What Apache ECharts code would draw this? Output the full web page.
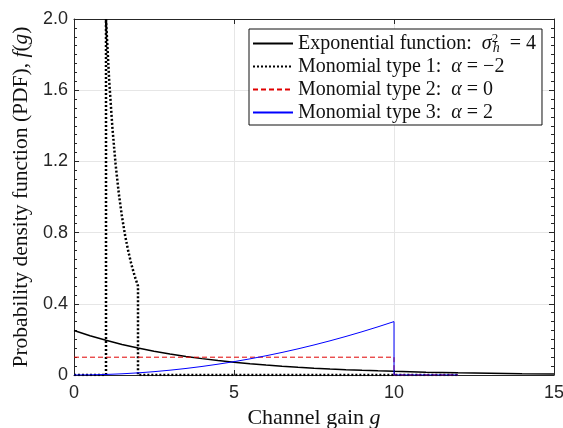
<!DOCTYPE html>
<html>
<head>
<meta charset="utf-8">
<script src="https://cdn.jsdelivr.net/npm/echarts@6/dist/echarts.min.js"></script>
<style>html,body{margin:0;padding:0;background:#fff}#c{width:563px;height:428px}</style>
</head>
<body>
<div id="c"></div>
<script>
// ---- data ----
var seriesNames = ['Exponential function', 'Monomial type 1', 'Monomial type 2', 'Monomial type 3'];
var expG = [0,0.5,1,1.5,2,2.5,3,3.5,4,4.5,5,5.5,6,6.5,7,7.5,8,8.5,9,9.5,10,11,12,13,14,15];
var expF = [0.25,0.2206,0.1947,0.1718,0.1516,0.1338,0.1181,0.1042,0.092,0.0812,0.0716,0.0632,0.0558,0.0492,0.0434,0.0383,0.0338,0.0299,0.0263,0.0233,0.0205,0.016,0.0124,0.0097,0.0075,0.0059];
var mono1G = [0,1,1,1.1,1.2,1.3,1.4,1.5,1.6,1.7,1.8,1.9,2,2,12];
var mono1F = [0,0,2.0,1.653,1.389,1.183,1.02,0.889,0.781,0.692,0.617,0.554,0.5,0,0];
var mono2G = [0,10,10,12];
var mono2F = [0.1,0.1,0,0];
var mono3G = [0,0.5,1,1.5,2,2.5,3,3.5,4,4.5,5,5.5,6,6.5,7,7.5,8,8.5,9,9.5,10,10,12];
var mono3F = [0,0.00075,0.003,0.00675,0.012,0.01875,0.027,0.03675,0.048,0.06075,0.075,0.09075,0.108,0.12675,0.147,0.16875,0.192,0.21675,0.243,0.27075,0.3,0,0];
var xTickLabels = ['0','5','10','15'];
var yTickLabels = ['0','0.4','0.8','1.2','1.6','2.0'];

function pairs(xs, ys){ return xs.map(function(x,i){ return [x, ys[i]]; }); }

var serif = 'Liberation Serif';
var sans = 'Liberation Sans';
var axisColor = '#262626';

var chart = echarts.init(document.getElementById('c'), null, {renderer:'canvas'});
var baseAxisX = {type:'value', min:0, max:15, interval:5};
var baseAxisY = {type:'value', min:0, max:2, interval:0.4};

chart.setOption({
  animation:false,
  backgroundColor:'#fff',
  grid:{left:74, right:9, top:19, bottom:53, containLabel:false, outerBoundsMode:'none'},
  xAxis:[
    Object.assign({}, baseAxisX, {
      position:'bottom',
      name:'Channel gain {i|g}',
      nameLocation:'middle', nameGap:32,
      nameTextStyle:{fontFamily:serif, fontSize:22, color:'#111', rich:{i:{fontFamily:serif, fontStyle:'italic', fontSize:22, color:'#111'}}},
      axisLine:{show:true, onZero:false, lineStyle:{color:axisColor, width:1}},
      axisTick:{show:true, inside:true, length:5, lineStyle:{color:axisColor}},
      axisLabel:{fontFamily:sans, fontSize:18, color:'#262626', margin:9,
        formatter:function(v){ return xTickLabels[Math.round(v/5)]; }},
      splitLine:{show:true, lineStyle:{color:'#e6e6e6', width:1}}
    }),
    Object.assign({}, baseAxisX, {
      position:'top',
      axisLine:{show:true, onZero:false, lineStyle:{color:axisColor, width:1}},
      axisTick:{show:true, inside:true, length:5, lineStyle:{color:axisColor}},
      axisLabel:{show:false}, splitLine:{show:false}
    })
  ],
  yAxis:[
    Object.assign({}, baseAxisY, {
      position:'left',
      name:'Probability density function (PDF), {i|f}({i|g})',
      nameLocation:'middle', nameGap:39, nameRotate:90,
      nameTextStyle:{fontFamily:serif, fontSize:21.5, color:'#111', rich:{i:{fontFamily:serif, fontStyle:'italic', fontSize:21.5, color:'#111'}}},
      axisLine:{show:true, onZero:false, lineStyle:{color:axisColor, width:1}},
      axisTick:{show:true, inside:true, length:5, lineStyle:{color:axisColor}},
      minorTick:{show:true, splitNumber:8, length:3, lineStyle:{color:axisColor}},
      axisLabel:{fontFamily:sans, fontSize:18, color:'#262626', margin:6,
        formatter:function(v){ return yTickLabels[Math.round(v/0.4)]; }},
      splitLine:{show:true, lineStyle:{color:'#e6e6e6', width:1}}
    }),
    Object.assign({}, baseAxisY, {
      position:'right',
      axisLine:{show:true, onZero:false, lineStyle:{color:axisColor, width:1}},
      axisTick:{show:true, inside:true, length:5, lineStyle:{color:axisColor}},
      minorTick:{show:true, splitNumber:8, length:3, lineStyle:{color:axisColor}},
      axisLabel:{show:false}, splitLine:{show:false}
    })
  ],
  legend:{
    orient:'vertical', left:249, top:29,
    data:seriesNames,
    backgroundColor:'#fff', borderColor:'#111', borderWidth:1, borderRadius:0,
    padding:[3,6,1,3],
    itemWidth:40, itemHeight:10, itemGap:0,
    itemStyle:{opacity:0},
    textStyle:{fontFamily:serif, fontSize:20, color:'#111', lineHeight:23,
      rich:{
        t:{fontFamily:serif, fontSize:20, color:'#111', lineHeight:23},
        i:{fontFamily:serif, fontStyle:'italic', fontSize:20, color:'#111', lineHeight:23},
        sup:{fontFamily:serif, fontSize:13, color:'#111', verticalAlign:'top', lineHeight:23, width:1},
        sub:{fontFamily:serif, fontStyle:'italic', fontSize:14, color:'#111', verticalAlign:'bottom', lineHeight:19, padding:[6,0,0,0]}
      }},
    formatter:function(name){
      if(name===seriesNames[0]) return '{t|Exponential function:  }{i|σ}{sup|2}{sub|h}{t|  = 4}';
      if(name===seriesNames[1]) return '{t|Monomial type 1:  }{i|α}{t| = −2}';
      if(name===seriesNames[2]) return '{t|Monomial type 2:  }{i|α}{t| = 0}';
      return '{t|Monomial type 3:  }{i|α}{t| = 2}';
    }
  },
  series:[
    {name:seriesNames[0], type:'line', data:pairs(expG, expF), showSymbol:false, symbol:'none', smooth:false, clip:true,
      lineStyle:{color:'#000', width:1.5, type:'solid'}, itemStyle:{color:'#000'}},
    {name:seriesNames[1], type:'line', data:pairs(mono1G, mono1F), showSymbol:false, symbol:'none', clip:true,
      lineStyle:{color:'#000', width:2.5, type:[2,2]}, itemStyle:{color:'#000'}},
    {name:seriesNames[2], type:'line', data:pairs(mono2G, mono2F), showSymbol:false, symbol:'none', clip:true,
      lineStyle:{color:'#e00000', width:1, type:[5,3]}, itemStyle:{color:'#e00000'}},
    {name:seriesNames[3], type:'line', data:pairs(mono3G, mono3F), showSymbol:false, symbol:'none', clip:true,
      lineStyle:{color:'#0000ff', width:1, type:'solid'}, itemStyle:{color:'#0000ff'}}
  ]
});
</script>
</body>
</html>
